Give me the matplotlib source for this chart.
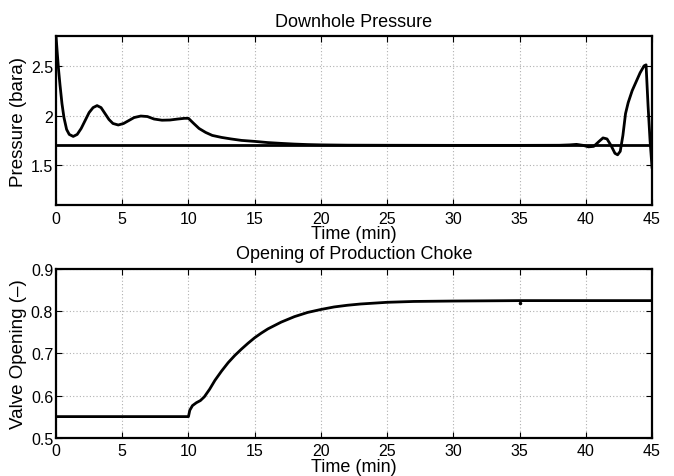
import matplotlib
matplotlib.use("Agg")
import matplotlib.pyplot as plt

plt.rcParams['font.family'] = ['Liberation Sans', 'DejaVu Sans']

# Downhole pressure (bara) vs time (min)
p_time = [0.0, 0.1, 0.2, 0.3, 0.45, 0.6, 0.8, 1.0, 1.3, 1.6, 1.9, 2.2, 2.5, 2.8, 3.1,
          3.4, 3.7, 4.0, 4.3, 4.7, 5.1, 5.5, 5.9, 6.4, 6.9, 7.4, 8.0, 8.6, 9.2, 9.7,
          10.0, 10.4, 10.8, 11.3, 11.8, 12.5, 13.2, 14.0, 15.0, 16.0, 17.0, 18.0,
          19.0, 20.0, 22.0, 25.0, 30.0, 35.0, 38.0, 38.8, 39.3, 39.8, 40.2, 40.6,
          41.0, 41.3, 41.6, 41.9, 42.2, 42.4, 42.6, 42.8, 43.0, 43.2, 43.5, 43.8,
          44.1, 44.4, 44.55, 44.7, 44.85, 45.0]
p_vals = [2.80, 2.62, 2.45, 2.31, 2.12, 1.98, 1.86, 1.81, 1.79, 1.81, 1.87, 1.95, 2.03,
          2.08, 2.10, 2.08, 2.02, 1.96, 1.92, 1.905, 1.92, 1.95, 1.98, 1.995, 1.99,
          1.965, 1.953, 1.955, 1.965, 1.972, 1.972, 1.92, 1.87, 1.83, 1.80, 1.78,
          1.765, 1.75, 1.74, 1.728, 1.72, 1.713, 1.708, 1.705, 1.702, 1.701, 1.700,
          1.700, 1.701, 1.705, 1.710, 1.700, 1.685, 1.69, 1.74, 1.775, 1.765, 1.70,
          1.62, 1.605, 1.64, 1.80, 2.02, 2.13, 2.25, 2.34, 2.43, 2.50, 2.51, 2.10,
          1.75, 1.48]
setpoint_time = [0.0, 45.0]
setpoint_vals = [1.7, 1.7]

# Production choke opening (-) vs time (min)
v_time = [0.0, 10.0, 10.1, 10.3, 10.6, 10.9, 11.2, 11.6, 12.0, 12.5, 13.0, 13.5, 14.0,
          14.5, 15.0, 15.5, 16.0, 17.0, 18.0, 19.0, 20.0, 21.0, 22.0, 23.0, 24.0,
          25.0, 27.0, 30.0, 35.0, 40.0, 45.0]
v_vals = [0.55, 0.55, 0.565, 0.576, 0.583, 0.588, 0.597, 0.615, 0.636, 0.658, 0.678,
          0.695, 0.71, 0.724, 0.737, 0.748, 0.758, 0.774, 0.787, 0.797, 0.804, 0.810,
          0.814, 0.817, 0.819, 0.821, 0.823, 0.824, 0.825, 0.825, 0.825]
dot_time = [35.0]
dot_vals = [0.82]

x_ticks = [0, 5, 10, 15, 20, 25, 30, 35, 40, 45]
p_yticks = [1.5, 2, 2.5]
p_yticklabels = ['1.5', '2', '2.5']
v_yticks = [0.5, 0.6, 0.7, 0.8, 0.9]
v_yticklabels = ['0.5', '0.6', '0.7', '0.8', '0.9']

fig = plt.figure(figsize=(6.74, 4.77), dpi=100)
ax1 = fig.add_axes([0.0831, 0.5681, 0.8843, 0.3543])
ax2 = fig.add_axes([0.0831, 0.0803, 0.8843, 0.3537])


def style(ax):
    ax.grid(True, linestyle=(0, (1, 2)), color='#b0b0b0', linewidth=0.8)
    ax.tick_params(direction='in', top=True, right=True, length=4, width=0.8,
                   labelsize=11.5)
    ax.tick_params(axis='x', pad=4)
    ax.tick_params(axis='y', pad=2)
    for s in ax.spines.values():
        s.set_linewidth(1.6)
    ax.set_xlim(0, 45)
    ax.set_xticks(x_ticks)
    ax.set_xticklabels([str(t) for t in x_ticks])


style(ax1)
ax1.plot(p_time, p_vals, color='black', linewidth=2)
ax1.plot(setpoint_time, setpoint_vals, color='black', linewidth=2)
ax1.set_ylim(1.1, 2.8)
ax1.set_yticks(p_yticks)
ax1.set_yticklabels(p_yticklabels)
ax1.set_title('Downhole Pressure', fontsize=13, pad=7)
ax1.set_xlabel('Time (min)', fontsize=13, labelpad=-0.5)
ax1.set_ylabel('Pressure (bara)', fontsize=13.5, labelpad=3)

style(ax2)
ax2.plot(v_time, v_vals, color='black', linewidth=2)
ax2.plot(dot_time, dot_vals, 'k.', markersize=3)
ax2.set_ylim(0.5, 0.9)
ax2.set_yticks(v_yticks)
ax2.set_yticklabels(v_yticklabels)
ax2.set_title('Opening of Production Choke', fontsize=13, pad=8)
ax2.set_xlabel('Time (min)', fontsize=13, labelpad=-0.5)
ax2.set_ylabel('Valve Opening (\u2013)', fontsize=13.5, labelpad=3)

fig.savefig('out.png', dpi=100)
